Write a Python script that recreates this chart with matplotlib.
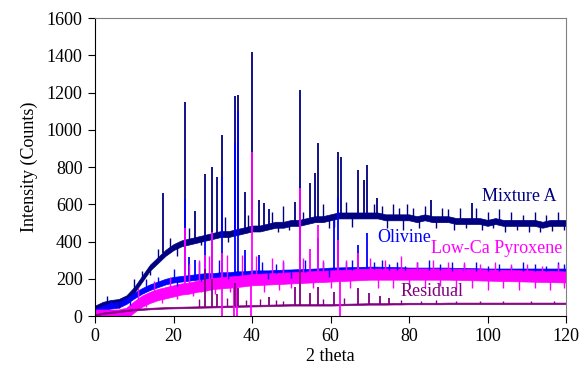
import numpy as np
import matplotlib
matplotlib.use("Agg")
from matplotlib import pyplot as plt

plt.rcParams['font.family'] = ['Liberation Serif', 'DejaVu Serif']

# 2-theta grid (every 2 degrees) and baselines
theta = list(range(0, 122, 2))

mix_base = [40, 60, 70, 75, 95, 140, 200, 260, 300, 340, 370, 390, 400, 410, 420, 430,
            440, 440, 450, 460, 470, 470, 480, 490, 490, 500, 500, 510, 520, 520, 530,
            540, 540, 540, 540, 540, 540, 530, 530, 530, 530, 520, 530, 520, 520, 520,
            510, 510, 510, 510, 500, 510, 500, 500, 500, 500, 500, 490, 500, 500, 500]
oli_base = [25, 40, 55, 60, 80, 110, 135, 155, 170, 185, 195, 200, 205, 210, 215, 215,
            220, 220, 225, 225, 230, 230, 230, 232, 234, 235, 237, 238, 240, 242, 245,
            246, 247, 248, 249, 250, 250, 249, 248, 247, 245, 245, 245, 245, 245, 245,
            243, 243, 242, 241, 240, 240, 240, 240, 240, 240, 240, 240, 240, 240, 240]
pyx_base = [5, 5, 5, 5, 15, 50, 80, 100, 115, 125, 135, 145, 150, 160, 165, 175,
            178, 182, 185, 190, 195, 197, 199, 201, 203, 205, 207, 209, 211, 213, 215,
            217, 219, 221, 223, 225, 225, 225, 225, 225, 225, 225, 225, 225, 225, 225,
            224, 223, 222, 221, 220, 219, 218, 217, 216, 215, 214, 213, 212, 211, 210]
res_base = [5, 15, 20, 25, 30, 35, 37, 40, 42, 44, 45, 46, 47, 48, 49, 50,
            51, 52, 53, 54, 55, 56, 57, 58, 59, 60, 60, 60, 60, 60, 60,
            61, 62, 63, 64, 65, 65, 65, 66, 66, 67, 67, 67, 67, 67, 68,
            68, 68, 68, 68, 68, 68, 68, 68, 68, 68, 68, 68, 68, 68, 68]

# half-width of the noise band of each pattern
mix_noise = 16
oli_noise = 15
pyx_noise = 30
res_noise = 4

# diffraction peaks (2 theta, top intensity)
mix_peak_pos = [17.3, 22.9, 25.5, 28.1, 29.8, 31.0, 32.4, 35.7, 36.5, 38.3, 40.1, 41.8,
                43.1, 44.3, 51.0, 52.2, 54.8, 56.1, 56.8, 62.0, 62.6, 66.9, 68.6, 69.4,
                71.9, 85.5, 96.0]
mix_peak_int = [660, 1147, 565, 762, 802, 748, 972, 1183, 1187, 667, 1416, 623,
                606, 574, 614, 1213, 716, 768, 927, 882, 855, 784, 730, 811,
                633, 623, 606]
oli_peak_pos = [22.9, 24.0, 25.5, 28.1, 29.8, 32.4, 35.7, 36.5, 38.3, 41.8, 52.2,
                56.8, 61.0, 62.0, 66.9, 69.4]
oli_peak_int = [630, 318, 300, 408, 453, 747, 930, 1100, 354, 330, 700,
                420, 515, 640, 380, 445]
pyx_peak_pos = [22.9, 28.1, 29.8, 32.4, 40.1, 52.2, 54.8, 56.8, 62.0, 67.0]
pyx_peak_int = [470, 330, 453, 338, 880, 686, 360, 489, 408, 340]
pyx_dip_pos = [32.3, 35.5, 36.2, 39.7, 62.5]
res_peak_pos = [28.1, 29.8, 31.0, 35.6, 36.5, 44.2, 51.0, 52.2, 54.8, 56.8, 60.9,
                66.9, 69.9, 72.6, 75.0]
res_peak_int = [250, 200, 120, 177, 150, 100, 157, 247, 123, 157, 131,
                150, 123, 109, 96]

# noise spikes (up and down) seen in the traces
mix_spike_pos = [3, 6, 10, 12, 14, 16, 19, 21, 24, 27, 33, 34, 39, 45, 46.5, 48, 49.5,
                 53, 58, 59.5, 61, 64, 65.5, 71, 73, 74.5, 76, 77.5, 78.5, 79.5, 81, 82.5,
                 84, 87, 88.5, 90, 91.5, 93, 94.5, 97, 98.5, 100, 101.5, 103, 104.5,
                 106, 107.5, 109, 110.5, 112, 113.5, 115, 116.5, 118, 119.5]
mix_spike_int = [105, 45, 200, 240, 220, 360, 420, 320, 470, 380, 530, 400, 540, 560, 450,
                 590, 460, 560, 600, 470, 480, 610, 480, 600, 590, 470, 600, 580, 460,
                 600, 580, 470, 590, 470, 580, 575, 460, 580, 470, 580, 460, 560, 470,
                 575, 450, 560, 460, 545, 450, 560, 450, 540, 455, 560, 460]
oli_spike_pos = [4, 9, 13, 16, 20, 21, 26.5, 27, 31.5, 34, 42.5, 44, 46, 48, 50, 53.5, 58,
                 59.5, 64, 65.5, 71, 73, 75, 77, 79, 82, 85, 88, 91, 94, 97, 100, 103,
                 106, 109, 112, 115, 118, 119.5]
oli_spike_int = [80, 60, 200, 210, 250, 160, 290, 190, 300, 200, 290, 200, 280, 290, 200,
                 300, 290, 210, 290, 300, 290, 300, 280, 290, 270, 290, 300, 280, 290,
                 280, 290, 270, 280, 270, 290, 280, 270, 290, 280]
pyx_spike_pos = [11, 13, 15, 17, 19, 21, 24, 25, 26.5, 27, 29, 30.5, 33.5, 34.5, 37.5,
                 41, 43, 45, 47, 48, 50, 53, 55.5, 58, 60, 64, 65, 70, 72, 74, 76, 78,
                 80, 82, 84, 86, 88, 90, 92, 94, 96, 98, 100, 102, 104, 106, 108, 110,
                 112, 114, 116, 118, 119.5]
pyx_spike_int = [150, 50, 190, 70, 210, 90, 280, 110, 300, 130, 320, 120, 330, 130, 330,
                 320, 130, 310, 140, 300, 150, 310, 150, 300, 150, 300, 150, 310, 150,
                 300, 150, 320, 160, 290, 150, 300, 160, 290, 140, 290, 150, 280, 140,
                 290, 150, 280, 140, 280, 150, 270, 140, 280, 150]
res_spike_pos = [26.5, 33.5, 38.5, 42, 46, 48, 58, 63.5, 78, 83, 87, 92, 98, 104, 111, 117]
res_spike_int = [90, 95, 85, 90, 85, 80, 90, 95, 85, 80, 85, 80, 80, 78, 80, 78]

series = [
    (mix_base, mix_noise, mix_peak_pos, mix_peak_int, mix_spike_pos, mix_spike_int, '#000080'),
    (oli_base, oli_noise, oli_peak_pos, oli_peak_int, oli_spike_pos, oli_spike_int, '#0000FF'),
    (pyx_base, pyx_noise, pyx_peak_pos, pyx_peak_int, pyx_spike_pos, pyx_spike_int, '#FF00FF'),
    (res_base, res_noise, res_peak_pos, res_peak_int, res_spike_pos, res_spike_int, '#800080'),
]

fig = plt.figure(figsize=(5.88, 3.72), dpi=100)
ax = fig.add_axes([0.1616, 0.1505, 0.801, 0.801])

th = np.array(theta)
for base, noise, ppos, pint, spos, sint, col in series:
    b = np.array(base, dtype=float)
    ax.fill_between(th, b - noise, b + noise, color=col, linewidth=0.5, edgecolor=col)
    sb = [b[int(round(p / 2))] for p in spos]
    ax.vlines(spos, sb, sint, color=col, linewidth=1.0)
    pb = [b[int(round(p / 2))] for p in ppos]
    ax.vlines(ppos, pb, pint, color=col, linewidth=1.3)
    if col == '#FF00FF':
        db = [b[int(round(p / 2))] for p in pyx_dip_pos]
        ax.vlines(pyx_dip_pos, 0, db, color=col, linewidth=1.3)

ax.text(108, 644, 'Mixture A', color='#000080', fontsize=13, ha='center', va='center')
ax.text(78.7, 419, 'Olivine', color='#0000FF', fontsize=13, ha='center', va='center')
ax.text(102.4, 365, 'Low-Ca Pyroxene', color='#FF00FF', fontsize=13, ha='center', va='center')
ax.text(85.9, 134, 'Residual', color='#800080', fontsize=13, ha='center', va='center')

ax.set_xlim(0, 120)
ax.set_ylim(0, 1600)
ax.set_xticks(range(0, 121, 20))
ax.set_yticks(range(0, 1601, 200))
ax.tick_params(direction='out', length=5, labelsize=13, color='black')
ax.tick_params(axis='y', pad=4)
ax.set_xlabel('2 theta', fontsize=13, labelpad=2)
ax.set_ylabel('Intensity (Counts)', fontsize=13, labelpad=6)
ax.spines['top'].set_color('#808080')
ax.spines['right'].set_color('#808080')

fig.savefig('out.png', dpi=100)
